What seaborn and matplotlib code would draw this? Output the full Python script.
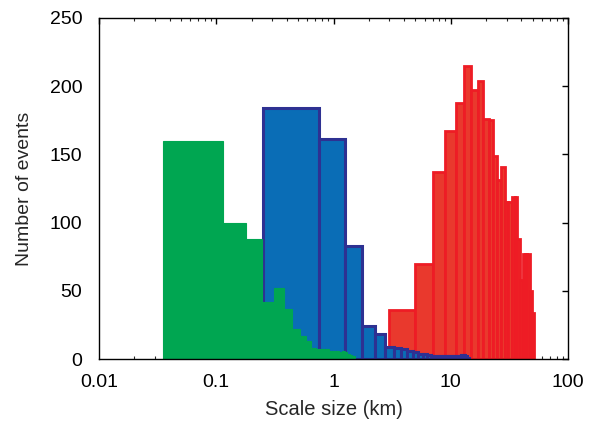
import numpy as np
import pandas as pd
import matplotlib
matplotlib.use("Agg")
import matplotlib.pyplot as plt
import seaborn as sns
from matplotlib.ticker import FixedLocator, FixedFormatter, LogLocator, NullFormatter

# ---------------- data ----------------
# green histogram: bin edges (km) and counts
green_edges = [0.035, 0.1133, 0.18, 0.2467, 0.3133, 0.38, 0.4467, 0.5133, 0.58,
               0.6467, 0.7133, 0.78, 0.8467, 0.9133, 0.98, 1.0467, 1.1133, 1.18,
               1.2467, 1.3133, 1.38, 1.4467, 1.5133]
green_counts = [160, 100, 88, 42, 52, 37, 22, 17, 13, 8, 7, 7, 7, 6, 6, 6, 5, 6, 5, 4, 3, 2]

# blue histogram: linear bins of width 0.5 km starting at 0.25 km
blue_start, blue_width = 0.25, 0.5
blue_counts = [184, 161, 83, 24, 18, 9, 8, 7, 6, 5, 4, 4, 3, 2, 2, 2, 2, 2, 2, 2,
               2, 2, 2, 2, 3, 3, 2, 1]

# red histogram: linear bins of width 2 km starting at 3 km
red_start, red_width = 3.0, 2.0
red_counts = [36, 70, 137, 167, 188, 215, 197, 204, 176, 175, 149, 131, 141, 115,
              115, 119, 119, 88, 58, 77, 77, 77, 50, 34]

x_ticks = [0.01, 0.1, 1, 10, 100]
x_tick_labels = ["0.01", "0.1", "1", "10", "100"]
y_ticks = [0, 50, 100, 150, 200, 250]


def linear_edges(start, width, n):
    return [float(start + width * k) for k in range(n + 1)]


def hist_frame(edges, counts):
    e = np.asarray(edges, float)
    centers = (e[:-1] + e[1:]) / 2
    return pd.DataFrame({"size": centers, "count": np.asarray(counts, float)})


sns.set_style("white")
plt.rcParams["font.family"] = ["Liberation Sans", "DejaVu Sans"]

fig = plt.figure(figsize=(5.99, 4.26), dpi=100)
ax = fig.add_axes([99 / 599, 1 - 359 / 426, (568 - 99) / 599, (359 - 18) / 426])

layers = [
    (linear_edges(red_start, red_width, len(red_counts)), red_counts, "#E9392D", "#EE1C25", 2.0),
    (linear_edges(blue_start, blue_width, len(blue_counts)), blue_counts, "#0A6DB6", "#2E3192", 2.2),
    (list(map(float, green_edges)), green_counts, "#00A651", "#00A651", 0.8),
]
for edges, counts, fc, ec, lw in layers:
    df = hist_frame(edges, counts)
    sns.histplot(data=df, x="size", weights="count", bins=edges, ax=ax,
                 color=fc, edgecolor=ec, linewidth=lw, alpha=1, fill=True)

ax.set_xscale("log")
ax.set_xlim(0.01, 100)
ax.set_ylim(0, 250)

ax.xaxis.set_major_locator(FixedLocator(x_ticks))
ax.xaxis.set_major_formatter(FixedFormatter(x_tick_labels))
ax.xaxis.set_minor_locator(LogLocator(base=10, subs=np.arange(2, 10)))
ax.xaxis.set_minor_formatter(NullFormatter())
ax.set_yticks(y_ticks)

ax.tick_params(axis="both", which="major", direction="in", length=4.5, width=1,
               top=True, right=True, labelsize=14, colors="black")
ax.tick_params(axis="y", which="major", pad=12)
ax.tick_params(axis="x", which="major", pad=11)
ax.tick_params(axis="x", which="minor", direction="in", length=2.5, width=0.8,
               top=True, bottom=True)
for s in ax.spines.values():
    s.set_visible(True)
    s.set_color("black")
    s.set_linewidth(1)

ax.set_xlabel("Scale size (km)", fontsize=14.5, labelpad=6)
ax.set_ylabel("Number of events", fontsize=14, labelpad=12)

fig.savefig("out.png", dpi=100)
